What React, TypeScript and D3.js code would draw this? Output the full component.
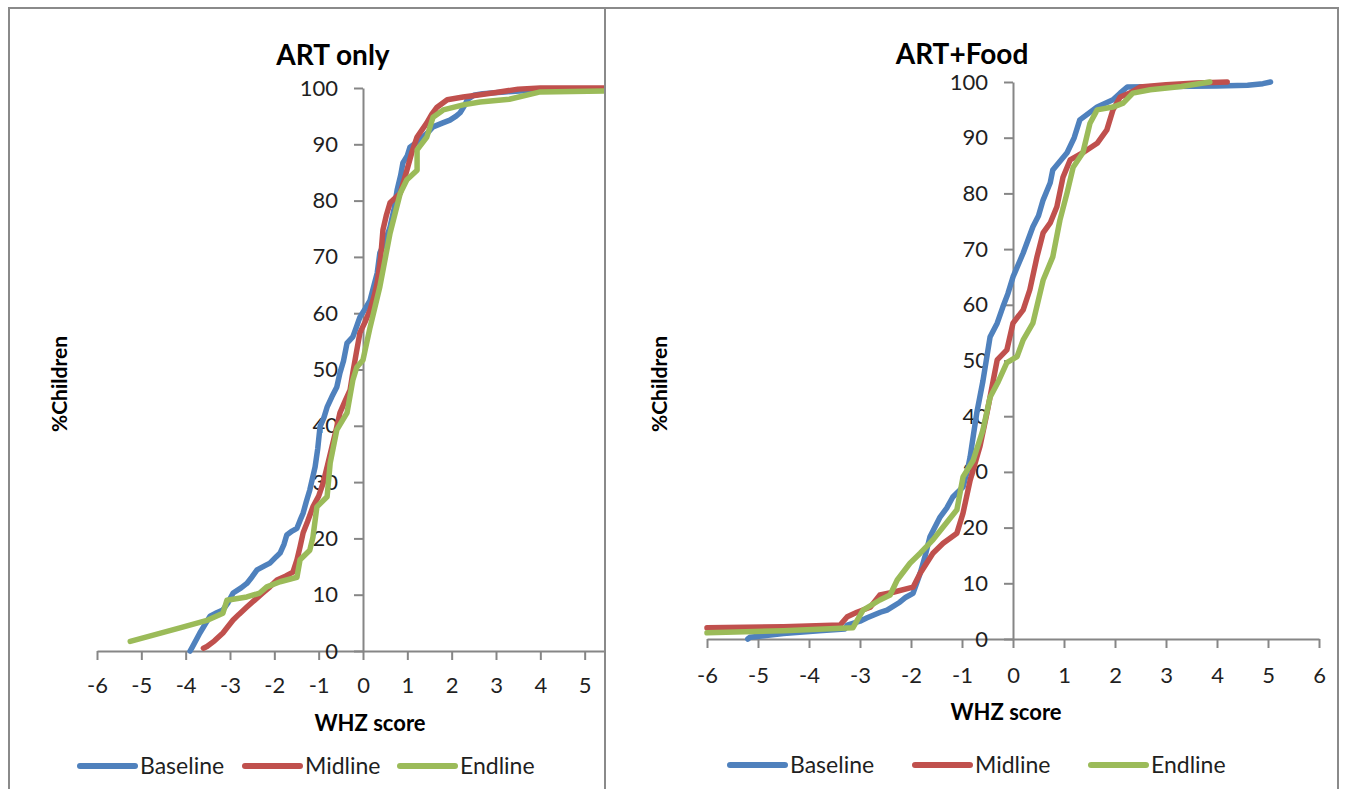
import React, { useEffect, useRef } from 'react';
import * as d3 from 'd3';

// Cumulative distribution of WHZ scores
const seriesNames = ['Baseline', 'Midline', 'Endline'];
const seriesColors = ['#4F81BD', '#C0504D', '#9BBB59'];
const xTicks = [-6, -5, -4, -3, -2, -1, 0, 1, 2, 3, 4, 5, 6];
const yTicks = [0, 10, 20, 30, 40, 50, 60, 70, 80, 90, 100];

type Pt = [number, number];

const artOnlyBaseline: Pt[] = [
  [-3.9, 0], [-3.85, 0.7], [-3.68, 3.2], [-3.45, 6.2], [-3.3, 6.8], [-3.16, 7.3], [-3.05, 8.5], [-2.93, 10.3],
  [-2.75, 11.2], [-2.62, 12], [-2.5, 13.2], [-2.39, 14.4], [-2.2, 15.2], [-2.1, 15.6], [-1.95, 16.8], [-1.87, 17.4],
  [-1.78, 19], [-1.72, 20.6], [-1.6, 21.3], [-1.49, 21.8], [-1.42, 23.2], [-1.35, 24.5], [-1.28, 26.5], [-1.2, 28.6],
  [-1.08, 32.7], [-1.02, 36], [-0.97, 39.8], [-0.88, 41.5], [-0.81, 43.3], [-0.7, 45.2], [-0.59, 46.9], [-0.52, 49.4],
  [-0.44, 51.5], [-0.36, 54.7], [-0.23, 55.8], [-0.15, 57.5], [-0.07, 59.3], [0.05, 60.8], [0.16, 62.3], [0.25, 65],
  [0.32, 67.1], [0.38, 70.7], [0.5, 72.8], [0.61, 75.3], [0.7, 78.5], [0.77, 81.9], [0.85, 84.5], [0.9, 86.7],
  [1.0, 88], [1.06, 89.5], [1.29, 90.8], [1.45, 92], [1.58, 93.1], [1.8, 93.8], [1.96, 94.3], [2.1, 95],
  [2.19, 95.6], [2.3, 97], [2.35, 97.9], [2.5, 98.7], [2.7, 99], [3.2, 99.3], [3.8, 99.6], [4.5, 99.8], [5.6, 99.8],
];
const artOnlyMidline: Pt[] = [
  [-3.6, 0.5], [-3.52, 0.8], [-3.35, 1.8], [-3.16, 3.2], [-3.05, 4.3], [-2.93, 5.5], [-2.8, 6.5], [-2.62, 7.8],
  [-2.45, 9], [-2.26, 10.3], [-2.1, 11.4], [-1.94, 12.6], [-1.75, 13.3], [-1.58, 14], [-1.49, 16.2], [-1.42, 18.5],
  [-1.35, 21], [-1.25, 23], [-1.13, 25.6], [-1.0, 27.5], [-0.9, 29.8], [-0.8, 33], [-0.68, 36.9], [-0.6, 39.5],
  [-0.52, 42.3], [-0.4, 44.5], [-0.29, 46.4], [-0.23, 49.4], [-0.15, 53], [-0.07, 56.5], [0.05, 58.5], [0.16, 60.6],
  [0.25, 63], [0.32, 65.4], [0.4, 70], [0.45, 74.8], [0.53, 77.5], [0.61, 79.6], [0.84, 81.3], [0.92, 83.5],
  [0.99, 85.4], [1.1, 88.5], [1.22, 91.3], [1.44, 93.8], [1.55, 95.3], [1.67, 96.6], [1.9, 97.9], [2.26, 98.4],
  [2.64, 98.8], [3.0, 99.2], [3.5, 99.8], [4.0, 100], [5.6, 100],
];
const artOnlyEndline: Pt[] = [
  [-5.25, 1.7], [-4.13, 4.1], [-3.5, 5.5], [-3.16, 6.7], [-3.07, 9], [-2.62, 9.6], [-2.33, 10.3], [-2.17, 11.4],
  [-1.87, 12.3], [-1.49, 13.1], [-1.42, 16.2], [-1.2, 17.9], [-1.13, 20.2], [-1.04, 25.6], [-0.81, 27.4], [-0.74, 33.4],
  [-0.59, 39.3], [-0.36, 42.3], [-0.23, 48.1], [-0.14, 50.4], [0, 51.7], [0.16, 57.5], [0.38, 64.7], [0.61, 74.2],
  [0.84, 81.3], [0.99, 83.7], [1.22, 85.4], [1.22, 89], [1.44, 91.3], [1.58, 94.8], [1.81, 96.1], [2.26, 97],
  [2.64, 97.5], [3.3, 98], [4.0, 99.3], [5.6, 99.5],
];

const artFoodBaseline: Pt[] = [
  [-5.2, 0], [-5.16, 0.3], [-4.5, 1], [-3.8, 1.5], [-3.3, 1.8], [-3.25, 2.5], [-3.0, 3.2], [-2.86, 3.8],
  [-2.6, 4.8], [-2.47, 5.2], [-2.22, 6.6], [-2.1, 7.5], [-1.96, 8.2], [-1.82, 11.8], [-1.72, 15], [-1.63, 18.3],
  [-1.43, 21.9], [-1.3, 23.5], [-1.18, 25.5], [-0.98, 27.3], [-0.9, 30], [-0.84, 32.7], [-0.77, 37], [-0.71, 40.6],
  [-0.59, 46.3], [-0.45, 54.2], [-0.31, 56.7], [-0.2, 59.6], [-0.1, 62], [0, 65], [0.2, 69.3], [0.39, 74],
  [0.5, 76], [0.59, 78.8], [0.73, 81.9], [0.78, 84.2], [1.06, 87.3], [1.2, 90], [1.31, 93.2], [1.65, 95.5],
  [1.96, 96.8], [2.1, 98], [2.24, 99.1], [3, 99.2], [4, 99.3], [4.6, 99.4], [4.9, 99.7], [5.05, 100],
];
const artFoodMidline: Pt[] = [
  [-6, 2], [-4.5, 2.2], [-3.39, 2.5], [-3.25, 4], [-3.06, 4.8], [-2.8, 5.7], [-2.61, 7.9], [-2.35, 8.4],
  [-1.96, 9.3], [-1.82, 11.8], [-1.57, 15.4], [-1.37, 17.2], [-1.1, 19], [-0.98, 22.6], [-0.84, 28.5], [-0.65, 34.5],
  [-0.51, 40.6], [-0.39, 46.3], [-0.31, 50.1], [-0.12, 51.9], [0, 56.7], [0.2, 59.1], [0.33, 62.7], [0.47, 68.6],
  [0.59, 72.9], [0.73, 74.7], [0.86, 77.6], [0.98, 82.9], [1.12, 86], [1.37, 87.3], [1.65, 89], [1.84, 91.4],
  [1.96, 95], [2.1, 97.3], [2.29, 98], [2.49, 99.1], [3, 99.5], [3.6, 99.8], [4.2, 100],
];
const artFoodEndline: Pt[] = [
  [-6, 1.1], [-4.5, 1.5], [-3.14, 2], [-2.94, 5.2], [-2.61, 7], [-2.41, 7.9], [-2.27, 10.6], [-2.02, 13.6],
  [-1.82, 15.4], [-1.57, 17.8], [-1.37, 20.1], [-1.1, 23.2], [-0.98, 29.1], [-0.78, 32.1], [-0.59, 37.5], [-0.45, 43.4],
  [-0.3, 46], [-0.12, 49.6], [0.08, 50.7], [0.2, 53.7], [0.39, 56.7], [0.59, 64.4], [0.78, 68.6], [0.92, 75.2],
  [1.06, 80.1], [1.18, 84.7], [1.37, 87.3], [1.51, 92.6], [1.65, 95], [1.96, 95.5], [2.16, 96.2], [2.35, 98],
  [2.69, 98.6], [3.3, 99.2], [3.86, 100],
];

const W = 1346;
const H = 789;
const font = "Lato, 'Open Sans', sans-serif";
const axisColor = '#868686';
const textColor = '#1f1f1f';

// layout of the two chart panels
const panels = [
  {
    id: 'left', title: 'ART only', series: [artOnlyBaseline, artOnlyMidline, artOnlyEndline],
    clipX: [10, 604], xRange: [97, 629], yRange: [651, 88],
    titleX: 333, titleY: 65, yLabelX: 67, xLabelX: 370, xLabelY: 731, xTickPad: 17,
    legendY: 766, legendX: [80, 245, 400],
  },
  {
    id: 'right', title: 'ART+Food', series: [artFoodBaseline, artFoodMidline, artFoodEndline],
    clipX: [606, 1337], xRange: [707, 1319], yRange: [639, 82],
    titleX: 962, titleY: 64, yLabelX: 667, xLabelX: 1006, xLabelY: 720, xTickPad: 19,
    legendY: 765, legendX: [730, 915, 1091],
  },
];

const App = () => {
  const svgRef = useRef<SVGSVGElement>(null);

  useEffect(() => {
    const svg = d3.select(svgRef.current);
    svg.selectAll('*').remove();

    svg.append('rect').attr('width', W).attr('height', H).attr('fill', '#fff');

    panels.forEach((p) => {
      const x = d3.scaleLinear().domain([-6, 6]).range(p.xRange);
      const y = d3.scaleLinear().domain([0, 100]).range(p.yRange);

      svg.append('clipPath').attr('id', `clip-${p.id}`)
        .append('rect')
        .attr('x', p.clipX[0]).attr('y', 0)
        .attr('width', p.clipX[1] - p.clipX[0]).attr('height', H);

      const g = svg.append('g').attr('clip-path', `url(#clip-${p.id})`);

      // x axis (plain hyphen minus, like the original)
      const xAxis = g.append('g')
        .attr('transform', `translate(0,${p.yRange[0]})`)
        .call(d3.axisBottom(x).tickValues(xTicks).tickSize(9).tickSizeOuter(0).tickPadding(p.xTickPad).tickFormat((d) => String(d)));

      // y axis
      const yAxis = g.append('g')
        .attr('transform', `translate(${x(0)},0)`)
        .call(d3.axisLeft(y).tickValues(yTicks).tickSize(9).tickSizeOuter(0).tickPadding(16).tickFormat((d) => String(d)));

      [xAxis, yAxis].forEach((a) => {
        a.select('.domain').attr('stroke', axisColor).attr('stroke-width', 2);
        a.selectAll('.tick line').attr('stroke', axisColor).attr('stroke-width', 2);
        a.selectAll('.tick text')
          .attr('fill', textColor)
          .style('font-family', font)
          .style('font-size', '22px');
      });

      const line = d3.line<Pt>().x((d) => x(d[0])).y((d) => y(d[1]));

      p.series.forEach((s, i) => {
        g.append('path')
          .datum(s)
          .attr('d', line)
          .attr('fill', 'none')
          .attr('stroke', seriesColors[i])
          .attr('stroke-width', 5.5)
          .attr('stroke-linejoin', 'round')
          .attr('stroke-linecap', 'round');
      });

      // titles and axis labels
      svg.append('text')
        .attr('x', p.titleX).attr('y', p.titleY)
        .attr('text-anchor', 'middle')
        .style('font-family', font).style('font-size', '28px').style('font-weight', 700)
        .attr('fill', '#000')
        .text(p.title);

      svg.append('text')
        .attr('transform', `translate(${p.yLabelX},384) rotate(-90)`)
        .attr('text-anchor', 'middle')
        .style('font-family', font).style('font-size', '21px').style('font-weight', 700)
        .attr('fill', '#000')
        .text('%Children');

      svg.append('text')
        .attr('x', p.xLabelX).attr('y', p.xLabelY)
        .attr('text-anchor', 'middle')
        .style('font-family', font).style('font-size', '22px').style('font-weight', 700)
        .attr('fill', '#000')
        .text('WHZ score');

      // legend
      seriesNames.forEach((name, i) => {
        const lx = p.legendX[i];
        svg.append('line')
          .attr('x1', lx).attr('x2', lx + 55)
          .attr('y1', p.legendY).attr('y2', p.legendY)
          .attr('stroke', seriesColors[i])
          .attr('stroke-width', 6)
          .attr('stroke-linecap', 'round');
        svg.append('text')
          .attr('x', lx + 60).attr('y', p.legendY + 8)
          .style('font-family', font).style('font-size', '23px')
          .attr('fill', textColor)
          .text(name);
      });
    });

    // panel frames
    const frame = svg.append('g').attr('stroke', '#8a8a8a').attr('stroke-width', 2).attr('fill', 'none');
    frame.append('path').attr('d', `M9,${H} V8 H1338 V${H}`);
    frame.append('line').attr('x1', 605).attr('x2', 605).attr('y1', 8).attr('y2', H);
  }, []);

  return (
    <div style={{ position: 'absolute', left: 0, top: 0 }}>
      <svg ref={svgRef} width={W} height={H} style={{ display: 'block' }} />
    </div>
  );
};

export default App;
